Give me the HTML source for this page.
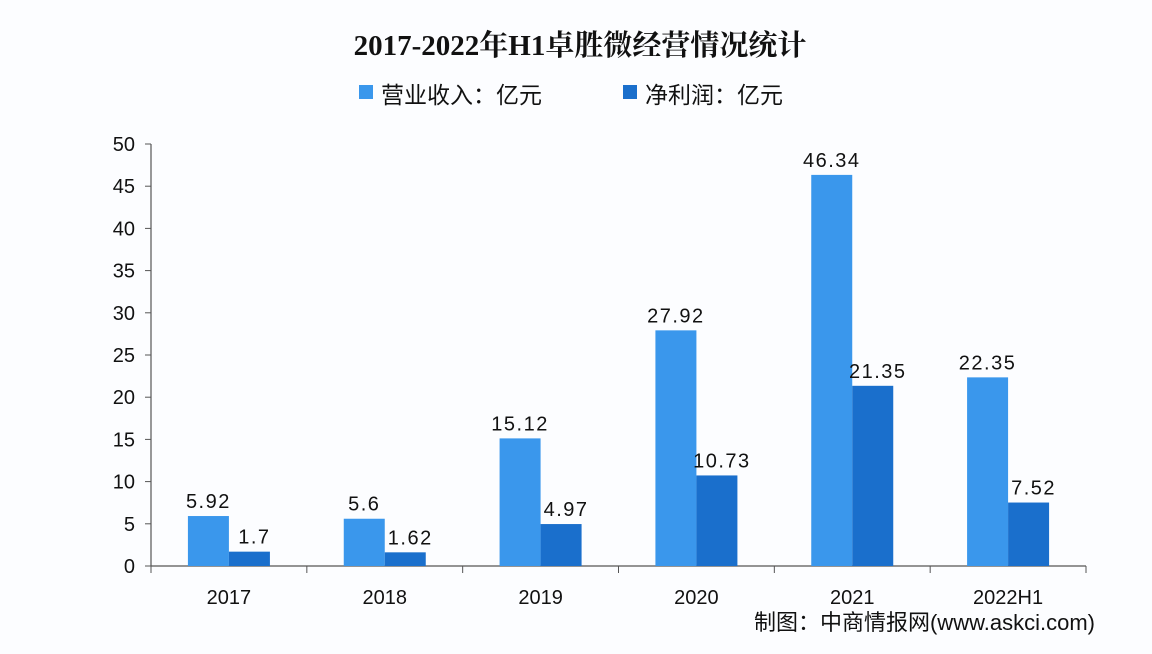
<!DOCTYPE html>
<html><head><meta charset="utf-8"><style>
body{margin:0;background:#fcfdff;}
svg{display:block;font-family:"Liberation Sans","Noto Sans CJK SC",sans-serif;}
</style></head><body>
<svg id="c" width="1152" height="654" viewBox="0 0 1152 654">
<rect width="1152" height="654" fill="#fcfdff"/>
<text x="580" y="55" text-anchor="middle" font-family="Liberation Serif,'Noto Serif CJK SC',serif" font-weight="bold" font-size="29" fill="#111">2017-2022年H1卓胜微经营情况统计</text>
<g>
<rect x="359" y="85" width="14" height="14" fill="#3a97ec"/>
<text x="381" y="103" font-size="23" fill="#111">营业收入：亿元</text>
<rect x="623" y="85" width="14" height="14" fill="#1a6fcc"/>
<text x="645" y="103" font-size="23" fill="#111">净利润：亿元</text>
</g>
<g id="plot"></g>
<text x="1095" y="630" text-anchor="end" font-size="22" fill="#111">制图：中商情报网(www.askci.com)</text>
</svg>
<script>
const categories=["2017","2018","2019","2020","2021","2022H1"];
const revenue=[5.92,5.6,15.12,27.92,46.34,22.35];
const profit=[1.7,1.62,4.97,10.73,21.35,7.52];
const revenueLabels=["5.92","5.6","15.12","27.92","46.34","22.35"];
const profitLabels=["1.7","1.62","4.97","10.73","21.35","7.52"];
const yTicks=[0,5,10,15,20,25,30,35,40,45,50];
const NS="http://www.w3.org/2000/svg";
const g=document.getElementById('plot');
const x0=151,x1=1086,y0=566,yTop=144,yMax=50;
const cw=(x1-x0)/categories.length;
const y=v=>y0-(v/yMax)*(y0-yTop);
const xc=i=>x0+cw*(i+0.5);
function mk(t,a){const e=document.createElementNS(NS,t);for(const k in a)e.setAttribute(k,a[k]);g.appendChild(e);return e;}
let e=mk('line',{x1:x0,y1:yTop,x2:x0,y2:y0,stroke:'#555','stroke-width':1.2});


e=mk('line',{x1:x0,y1:y0,x2:x1,y2:y0,stroke:'#555','stroke-width':1.2});


yTicks.forEach(v=>{
 let t=mk('line',{x1:x0-6,y1:y(v),x2:x0,y2:y(v),stroke:'#555'});
 
 
 let l=mk('text',{x:x0-16,y:y(v)+7,'text-anchor':'end','font-size':20,fill:'#111'});
 l.textContent=v;
 
 
});
for(let i=0;i<=categories.length;i++){
 let t=mk('line',{x1:x0+cw*i,y1:y0,x2:x0+cw*i,y2:y0+7,stroke:'#555'});
 
 
}
const bw=41;
categories.forEach((c,i)=>{
 const cx=xc(i);
 let r=mk('rect',{x:cx-bw,y:y(revenue[i]),width:bw,height:y0-y(revenue[i]),fill:'#3a97ec'});
 
 
 let p=mk('rect',{x:cx,y:y(profit[i]),width:bw,height:y0-y(profit[i]),fill:'#1a6fcc'});
 
 
 let a=mk('text',{x:cx-bw/2,y:y(revenue[i])-8,'text-anchor':'middle','font-size':20,fill:'#111','letter-spacing':1.5});
 a.textContent=revenueLabels[i];
 
 
 let b=mk('text',{x:cx+bw/2+5,y:y(profit[i])-8,'text-anchor':'middle','font-size':20,fill:'#111','letter-spacing':1.5});
 b.textContent=profitLabels[i];
 
 
 let l=mk('text',{x:cx,y:y0+38,'text-anchor':'middle','font-size':20,fill:'#111'});
 l.textContent=c;
 
 
});
</script>
</body></html>
